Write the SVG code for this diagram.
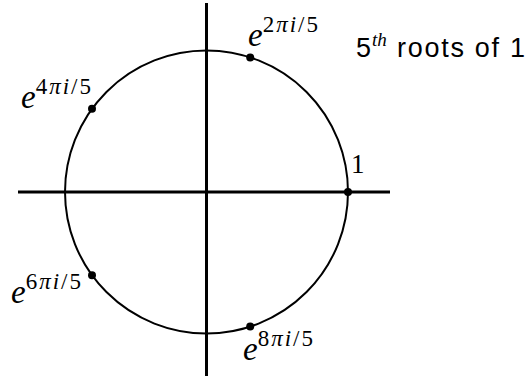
<svg xmlns="http://www.w3.org/2000/svg" width="530" height="381" viewBox="0 0 530 381">
<style>
.ax{stroke:#000;stroke-width:3;fill:none}
.circ{stroke:#000;stroke-width:2;fill:none}
.dot{fill:#000}
.m{font-family:"Liberation Serif",serif;fill:#000}
.e{font-size:33px;font-style:italic}
.sup{font-size:23px;letter-spacing:2px}
.it{font-style:italic}
.sf{font-family:"Liberation Sans",sans-serif;fill:#000}
</style>
<rect width="530" height="381" fill="#fff"/>
<g id="axes">
<line class="ax" x1="18" y1="192" x2="390" y2="192"/>
<line class="ax" x1="206.5" y1="3" x2="206.5" y2="376"/>
</g>
<g id="circle">
<circle class="circ" cx="206.5" cy="192" r="141.5"/>
</g>
<g id="root1">
<circle class="dot" cx="348" cy="192" r="4"/>
<text class="m" x="351" y="173" font-size="27">1</text>
</g>
<g id="root2">
<circle class="dot" cx="250.2" cy="57.4" r="4"/>
<text class="m" x="248" y="46"><tspan class="e">e</tspan><tspan class="sup" dy="-14">2<tspan class="it">πi</tspan>/5</tspan></text>
</g>
<g id="root3">
<circle class="dot" cx="92" cy="108.8" r="4"/>
<text class="m" x="21" y="108"><tspan class="e">e</tspan><tspan class="sup" dy="-14">4<tspan class="it">πi</tspan>/5</tspan></text>
</g>
<g id="root4">
<circle class="dot" cx="92" cy="275.2" r="4"/>
<text class="m" x="11" y="303"><tspan class="e">e</tspan><tspan class="sup" dy="-14">6<tspan class="it">πi</tspan>/5</tspan></text>
</g>
<g id="root5">
<circle class="dot" cx="250.2" cy="326.6" r="4"/>
<text class="m" x="243" y="360"><tspan class="e">e</tspan><tspan class="sup" dy="-14">8<tspan class="it">πi</tspan>/5</tspan></text>
</g>
<g id="title">
<text class="sf" x="356" y="57" font-size="27">5</text>
<text class="m it" x="372" y="46" font-size="19">th</text>
<text class="sf" x="397" y="57" font-size="27" textLength="128" lengthAdjust="spacing">roots of 1</text>
</g>
</svg>
